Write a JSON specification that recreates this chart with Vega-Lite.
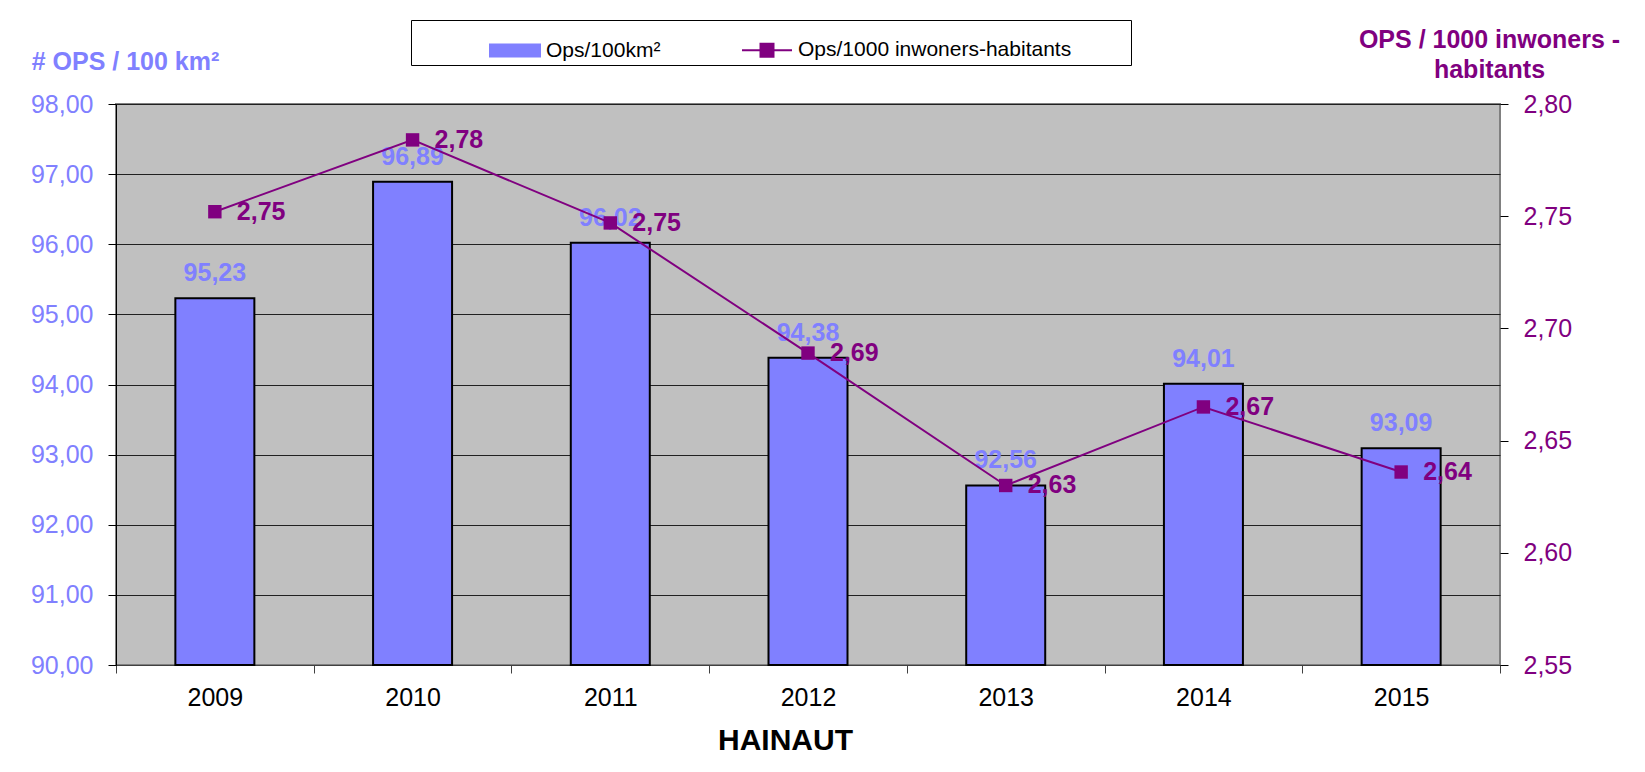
{
  "$schema": "https://vega.github.io/schema/vega-lite/v6.json",
  "width": 1384,
  "height": 561,
  "autosize": {"type": "none"},
  "padding": {"left": 116, "top": 104, "right": 145, "bottom": 107},
  "background": "white",
  "config": {
    "locale": {"number": {"decimal": ",", "thousands": ".", "grouping": [3], "currency": ["", " €"]}},
    "font": "Liberation Sans",
    "view": {"fill": "#C0C0C0", "stroke": "#808080", "strokeWidth": 2},
    "axis": {"labelFont": "Liberation Sans", "titleFont": "Liberation Sans"},
    "legend": {
      "orient": "none",
      "legendX": 295,
      "legendY": -84,
      "direction": "horizontal",
      "strokeColor": "black",
      "fillColor": "white",
      "padding": 4,
      "labelFontSize": 21,
      "labelFont": "Liberation Sans",
      "labelColor": "black",
      "labelOffset": 5,
      "labelLimit": 500,
      "symbolSize": 2500,
      "symbolOffset": 74,
      "columnPadding": 6,
      "titleOrient": "right",
      "titlePadding": 56,
      "titleFontSize": 10
    }
  },
  "data": {
    "values": [
      {"year": "2009", "ops100": 95.23, "ops1000": 2.752},
      {"year": "2010", "ops100": 96.89, "ops1000": 2.784},
      {"year": "2011", "ops100": 96.02, "ops1000": 2.747},
      {"year": "2012", "ops100": 94.38, "ops1000": 2.689},
      {"year": "2013", "ops100": 92.56, "ops1000": 2.630},
      {"year": "2014", "ops100": 94.01, "ops1000": 2.665},
      {"year": "2015", "ops100": 93.09, "ops1000": 2.636}
    ]
  },
  "encoding": {
    "x": {
      "field": "year",
      "type": "nominal",
      "scale": {"paddingInner": 0, "paddingOuter": 0},
      "axis": {
        "tickBand": "extent",
        "labelAngle": 0,
        "labelFontSize": 25,
        "labelColor": "black",
        "labelPadding": 12,
        "tickSize": 8,
        "tickColor": "#404040",
        "domainColor": "#404040",
        "grid": false,
        "title": "HAINAUT",
        "titleFontSize": 30,
        "titleFontWeight": "bold",
        "titleColor": "black",
        "titleX": 669,
        "titleY": 84,
        "titleAlign": "center",
        "titleBaseline": "alphabetic",
        "titleAnchor": null
      }
    }
  },
  "layer": [
    {
      "encoding": {
        "y": {
          "field": "ops100",
          "type": "quantitative",
          "scale": {"domain": [90, 98], "zero": false, "nice": false},
          "axis": {
            "orient": "left",
            "values": [90, 91, 92, 93, 94, 95, 96, 97, 98],
            "format": ".2f",
            "labelFontSize": 25,
            "labelColor": "#8080FF",
            "labelPadding": 15,
            "tickSize": 8,
            "tickColor": "black",
            "domainColor": "black",
            "grid": true,
            "gridColor": "#202020",
            "gridWidth": 1,
            "title": "# OPS / 100 km²",
            "titleFontSize": 25,
            "titleFontWeight": "bold",
            "titleColor": "#8080FF",
            "titleAngle": 0,
            "titleX": 9,
            "titleY": -35,
            "titleAlign": "center",
            "titleBaseline": "alphabetic"
          }
        }
      },
      "layer": [
        {
          "mark": {"type": "bar", "size": 79, "stroke": "black", "strokeWidth": 2},
          "encoding": {
            "y2": {"datum": 90},
            "color": {
              "datum": "Ops/100km²",
              "type": "nominal",
              "scale": {"domain": ["Ops/100km²", "Ops/1000 inwoners-habitants"], "range": ["#8080FF", "#800080"]},
              "legend": {
                "title": " ",
                "encode": {
                  "symbols": {
                    "update": {
                      "shape": {"signal": "datum.value === 'Ops/100km²' ? 'M-1,-0.24L1,-0.24L1,0.24L-1,0.24Z' : 'M-1,0L1,0M-0.26,-0.26L0.26,-0.26L0.26,0.26L-0.26,0.26Z'"},
                      "fill": {"signal": "datum.value === 'Ops/100km²' ? '#8080FF' : '#800080'"},
                      "stroke": {"signal": "datum.value === 'Ops/100km²' ? 'black' : '#800080'"},
                      "strokeWidth": {"value": 2},
                      "opacity": {"value": 1}
                    }
                  }
                }
              }
            }
          }
        },
        {
          "mark": {"type": "text", "dy": -25, "baseline": "middle", "fontSize": 25, "fontWeight": "bold", "color": "#8080FF", "font": "Liberation Sans"},
          "encoding": {"text": {"field": "ops100", "type": "quantitative", "format": ".2f"}}
        }
      ]
    },
    {
      "encoding": {
        "y": {
          "field": "ops1000",
          "type": "quantitative",
          "scale": {"domain": [2.55, 2.8], "zero": false, "nice": false},
          "axis": {
            "orient": "right",
            "values": [2.55, 2.6, 2.65, 2.7, 2.75, 2.8],
            "format": ".2f",
            "labelFontSize": 25,
            "labelColor": "#800080",
            "labelPadding": 15,
            "tickSize": 8,
            "tickColor": "black",
            "domain": false,
            "grid": false,
            "title": ["OPS / 1000 inwoners -", "habitants"],
            "titleFontSize": 25,
            "titleFontWeight": "bold",
            "titleColor": "#800080",
            "titleAngle": 0,
            "titleX": -11,
            "titleY": -57,
            "titleAlign": "center",
            "titleBaseline": "alphabetic",
            "titleLineHeight": 30
          }
        }
      },
      "layer": [
        {
          "mark": {"type": "line", "strokeWidth": 2},
          "encoding": {
            "color": {
              "datum": "Ops/1000 inwoners-habitants",
              "type": "nominal",
              "legend": {
                "title": " ",
                "encode": {
                  "symbols": {
                    "update": {
                      "shape": {"signal": "datum.value === 'Ops/100km²' ? 'M-1,-0.24L1,-0.24L1,0.24L-1,0.24Z' : 'M-1,0L1,0M-0.26,-0.26L0.26,-0.26L0.26,0.26L-0.26,0.26Z'"},
                      "fill": {"signal": "datum.value === 'Ops/100km²' ? '#8080FF' : '#800080'"},
                      "stroke": {"signal": "datum.value === 'Ops/100km²' ? 'black' : '#800080'"},
                      "strokeWidth": {"value": 2},
                      "opacity": {"value": 1}
                    }
                  }
                }
              }
            }
          }
        },
        {
          "mark": {"type": "point", "shape": "square", "size": 180, "filled": true, "opacity": 1},
          "encoding": {
            "color": {
              "datum": "Ops/1000 inwoners-habitants",
              "type": "nominal",
              "legend": {
                "title": " ",
                "encode": {
                  "symbols": {
                    "update": {
                      "shape": {"signal": "datum.value === 'Ops/100km²' ? 'M-1,-0.24L1,-0.24L1,0.24L-1,0.24Z' : 'M-1,0L1,0M-0.26,-0.26L0.26,-0.26L0.26,0.26L-0.26,0.26Z'"},
                      "fill": {"signal": "datum.value === 'Ops/100km²' ? '#8080FF' : '#800080'"},
                      "stroke": {"signal": "datum.value === 'Ops/100km²' ? 'black' : '#800080'"},
                      "strokeWidth": {"value": 2},
                      "opacity": {"value": 1}
                    }
                  }
                }
              }
            }
          }
        },
        {
          "mark": {"type": "text", "align": "left", "dx": 22, "baseline": "middle", "fontSize": 25, "fontWeight": "bold", "color": "#800080", "font": "Liberation Sans"},
          "encoding": {"text": {"field": "ops1000", "type": "quantitative", "format": ".2f"}}
        }
      ]
    }
  ],
  "resolve": {"scale": {"y": "independent"}}
}
